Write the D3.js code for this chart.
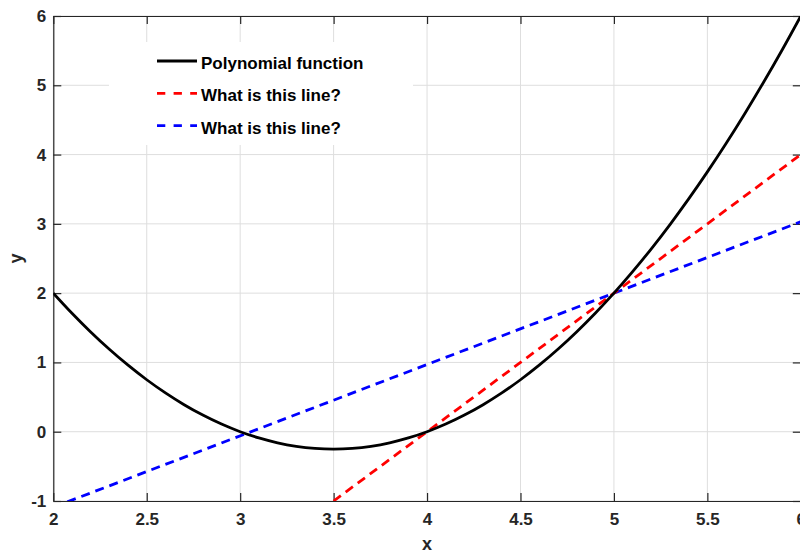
<!DOCTYPE html>
<html><head><meta charset="utf-8">
<script src="https://cdn.jsdelivr.net/npm/d3@7"></script>
<style>body{margin:0;background:#fff;} svg{display:block;font-family:"Liberation Sans",Arial,sans-serif;}</style>
</head><body>
<svg id="chart" width="800" height="552"></svg>
<script>
// ---- data ----
const polyX = [2.0,2.1,2.2,2.3,2.4,2.5,2.6,2.7,2.8,2.9,3.0,3.1,3.2,3.3,3.4,3.5,3.6,3.7,3.8,3.9,4.0,4.1,4.2,4.3,4.4,4.5,4.6,4.7,4.8,4.9,5.0,5.1,5.2,5.3,5.4,5.5,5.6,5.7,5.8,5.9,6.0];
const polyY = [2,1.71,1.44,1.19,0.96,0.75,0.56,0.39,0.24,0.11,0,-0.09,-0.16,-0.21,-0.24,-0.25,-0.24,-0.21,-0.16,-0.09,0,0.11,0.24,0.39,0.56,0.75,0.96,1.19,1.44,1.71,2,2.31,2.64,2.99,3.36,3.75,4.16,4.59,5.04,5.51,6];
const redX = [3.5, 6];
const redY = [-1, 4];
const blueX = [2, 6];
const blueY = [-1.09, 3.03];
const xTicks = [2,2.5,3,3.5,4,4.5,5,5.5,6];
const yTicks = [-1,0,1,2,3,4,5,6];
const legendLabels = ["Polynomial function","What is this line?","What is this line?"];
const seriesColors = ["#000000","#ff0000","#0000ff"];

// ---- layout ----
const svg = d3.select("#chart");
const L = 53.3, R = 800.8, T = 16, B = 501;
const x = d3.scaleLinear().domain([2,6]).range([L,R]);
const y = d3.scaleLinear().domain([-1,6]).range([B,T]);
const axisCol = "#262626";
const fmt = d => String(d);

svg.append("defs").append("clipPath").attr("id","clip")
  .append("rect").attr("x",L).attr("y",T).attr("width",R-L).attr("height",B-T);

// grid
const g = svg.append("g");
g.selectAll(".gx").data(xTicks).enter().append("line")
  .attr("x1",d=>x(d)).attr("x2",d=>x(d)).attr("y1",T).attr("y2",B)
  .attr("stroke","#dedede").attr("stroke-width",1);
g.selectAll(".gy").data(yTicks).enter().append("line")
  .attr("y1",d=>y(d)).attr("y2",d=>y(d)).attr("x1",L).attr("x2",R)
  .attr("stroke","#dedede").attr("stroke-width",1);

// axes (box with inner ticks)
const xb = svg.append("g").attr("transform",`translate(0,${B})`)
  .call(d3.axisBottom(x).tickValues(xTicks).tickSize(-8).tickSizeOuter(0).tickPadding(12).tickFormat(fmt));
const xt = svg.append("g").attr("transform",`translate(0,${T})`)
  .call(d3.axisTop(x).tickValues(xTicks).tickSize(-8).tickSizeOuter(0).tickFormat(""));
const yl = svg.append("g").attr("transform",`translate(${L},0)`)
  .call(d3.axisLeft(y).tickValues(yTicks).tickSize(-8).tickSizeOuter(0).tickPadding(7).tickFormat(fmt));
const yr = svg.append("g").attr("transform",`translate(${R},0)`)
  .call(d3.axisRight(y).tickValues(yTicks).tickSize(-8).tickSizeOuter(0).tickFormat(""));
[xb,xt,yl,yr].forEach(a=>{
  a.selectAll("path").attr("stroke",axisCol).attr("stroke-width",1.2);
  a.selectAll("line").attr("stroke",axisCol).attr("stroke-width",1.2);
  a.selectAll("text").attr("fill",axisCol).attr("font-size",17).attr("font-weight","bold")
   .attr("font-family","'Liberation Sans',Arial,sans-serif");
});

// lines
const plot = svg.append("g").attr("clip-path","url(#clip)");
const line = d3.line().x(d=>x(d[0])).y(d=>y(d[1]));
plot.append("path").datum(blueX.map((v,i)=>[v,blueY[i]])).attr("d",line)
  .attr("fill","none").attr("stroke",seriesColors[2]).attr("stroke-width",2.8).attr("stroke-dasharray","9,6");
plot.append("path").datum(redX.map((v,i)=>[v,redY[i]])).attr("d",line)
  .attr("fill","none").attr("stroke",seriesColors[1]).attr("stroke-width",2.8).attr("stroke-dasharray","9,6");
plot.append("path").datum(polyX.map((v,i)=>[v,polyY[i]])).attr("d",line.curve(d3.curveMonotoneX))
  .attr("fill","none").attr("stroke",seriesColors[0]).attr("stroke-width",2.8);

// legend
const lg = svg.append("g");
lg.append("rect").attr("x",109).attr("y",42).attr("width",304).attr("height",103).attr("fill","#fff");
const rows = [61, 93.3, 125.7];
legendLabels.forEach((t,i)=>{
  lg.append("line").attr("x1",157).attr("x2",197).attr("y1",rows[i]).attr("y2",rows[i])
    .attr("stroke",seriesColors[i]).attr("stroke-width",2.8)
    .attr("stroke-dasharray", i===0 ? null : "8.3,8.3");
  lg.append("text").attr("x",201).attr("y",rows[i]+8).text(t)
    .attr("font-size",17).attr("font-weight","bold").attr("fill","#000");
});

// axis labels
svg.append("text").attr("x",x(4)).attr("y",550).attr("text-anchor","middle")
  .attr("font-size",18).attr("font-weight","bold").attr("fill",axisCol).text("x");
svg.append("text").attr("transform",`translate(22,${(T+B)/2}) rotate(-90)`).attr("text-anchor","middle")
  .attr("font-size",18).attr("font-weight","bold").attr("fill",axisCol).text("y");
</script>
</body></html>
